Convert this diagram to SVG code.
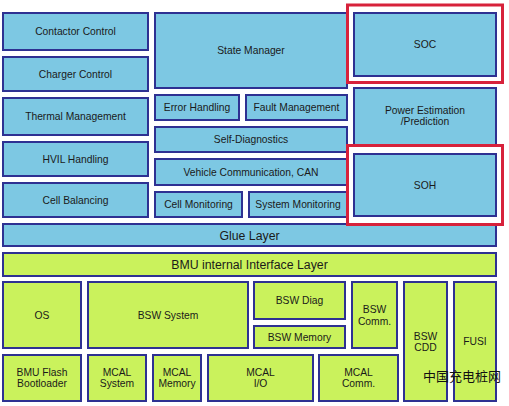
<svg xmlns="http://www.w3.org/2000/svg" width="509" height="406" viewBox="0 0 509 406">
<style>
.b rect{fill:#7DC8E3;stroke:#2E3192;stroke-width:2}
.g rect{fill:#CAF25C;stroke:#2E3192;stroke-width:2}
text{font-family:"Liberation Sans",Arial,sans-serif;font-size:10.3px;fill:#1a1a1a;text-anchor:middle}
.big{font-size:12.3px}
.hl{fill:none;stroke:#D7223B;stroke-width:3}
.wm{font-family:"Noto Sans CJK SC",sans-serif;font-size:13px;fill:#111;text-anchor:start}
</style>
<rect width="509" height="406" fill="#fff"/>
<g id="contactor" class="b"><rect x="3" y="13" width="145" height="37"/><text x="75.5" y="35">Contactor Control</text></g>
<g id="charger" class="b"><rect x="3" y="57" width="145" height="34"/><text x="75.5" y="77.5">Charger Control</text></g>
<g id="thermal" class="b"><rect x="3" y="98" width="145" height="37"/><text x="75.5" y="120">Thermal Management</text></g>
<g id="hvil" class="b"><rect x="3" y="142" width="145" height="34"/><text x="75.5" y="162.5">HVIL Handling</text></g>
<g id="balancing" class="b"><rect x="3" y="183" width="145" height="34"/><text x="75.5" y="203.5">Cell Balancing</text></g>
<g id="state" class="b"><rect x="155" y="13" width="192" height="75"/><text x="251" y="54">State Manager</text></g>
<g id="error" class="b"><rect x="155" y="95" width="84" height="25"/><text x="197" y="111">Error Handling</text></g>
<g id="fault" class="b"><rect x="246" y="95" width="101" height="25"/><text x="296.5" y="111">Fault Management</text></g>
<g id="selfdiag" class="b"><rect x="155" y="127" width="192" height="25"/><text x="251" y="143">Self-Diagnostics</text></g>
<g id="vehcomm" class="b"><rect x="155" y="159" width="192" height="26"/><text x="251" y="175.5">Vehicle Communication, CAN</text></g>
<g id="cellmon" class="b"><rect x="155" y="192" width="87" height="25"/><text x="198.5" y="208">Cell Monitoring</text></g>
<g id="sysmon" class="b"><rect x="249" y="192" width="98" height="25"/><text x="298" y="208">System Monitoring</text></g>
<g id="soc" class="b"><rect x="354" y="13" width="142" height="63"/><text x="425" y="48">SOC</text></g>
<g id="power" class="b"><rect x="354" y="88" width="142" height="58"/><text x="425" y="113.5">Power Estimation</text><text x="425" y="124.5">/Prediction</text></g>
<g id="soh" class="b"><rect x="354" y="154" width="142" height="62"/><text x="425" y="188.5">SOH</text></g>
<g id="glue" class="b"><rect x="3" y="224" width="493" height="22"/><text class="big" x="249.5" y="239.5">Glue Layer</text></g>
<g id="bmuif" class="g"><rect x="3" y="253" width="493" height="23"/><text class="big" x="249.5" y="268.5">BMU internal Interface Layer</text></g>
<g id="os" class="g"><rect x="3" y="282" width="78" height="66"/><text x="42" y="318.5">OS</text></g>
<g id="bswsys" class="g"><rect x="88" y="282" width="160" height="66"/><text x="168" y="318.5">BSW System</text></g>
<g id="bswdiag" class="g"><rect x="254" y="282" width="91" height="37"/><text x="299.5" y="304">BSW Diag</text></g>
<g id="bswmem" class="g"><rect x="254" y="326" width="91" height="22"/><text x="299.5" y="340.5">BSW Memory</text></g>
<g id="bswcomm" class="g"><rect x="352" y="282" width="45" height="66"/><text x="374.5" y="312.5">BSW</text><text x="374.5" y="324.5">Comm.</text></g>
<g id="bswcdd" class="g"><rect x="404" y="282" width="43" height="119"/><text x="425.5" y="339.5">BSW</text><text x="425.5" y="351">CDD</text></g>
<g id="fusi" class="g"><rect x="454" y="282" width="42" height="119"/><text x="475" y="344.5">FUSI</text></g>
<g id="flash" class="g"><rect x="3" y="355" width="78" height="46"/><text x="42" y="375.5">BMU Flash</text><text x="42" y="387">Bootloader</text></g>
<g id="mcalsys" class="g"><rect x="88" y="355" width="58" height="46"/><text x="117" y="375.5">MCAL</text><text x="117" y="387">System</text></g>
<g id="mcalmem" class="g"><rect x="153" y="355" width="48" height="46"/><text x="177" y="375.5">MCAL</text><text x="177" y="387">Memory</text></g>
<g id="mcalio" class="g"><rect x="208" y="355" width="105" height="46"/><text x="260.5" y="375.5">MCAL</text><text x="260.5" y="387">I/O</text></g>
<g id="mcalcomm" class="g"><rect x="319" y="355" width="79" height="46"/><text x="358.5" y="375.5">MCAL</text><text x="358.5" y="387">Comm.</text></g>
<g id="connectors">
<rect class="hl" x="347.5" y="5" width="155" height="77.5"/>
<rect class="hl" x="347.5" y="145.5" width="155" height="79"/>
</g>
<text class="wm" x="423" y="381">中国充电桩网</text>
</svg>
